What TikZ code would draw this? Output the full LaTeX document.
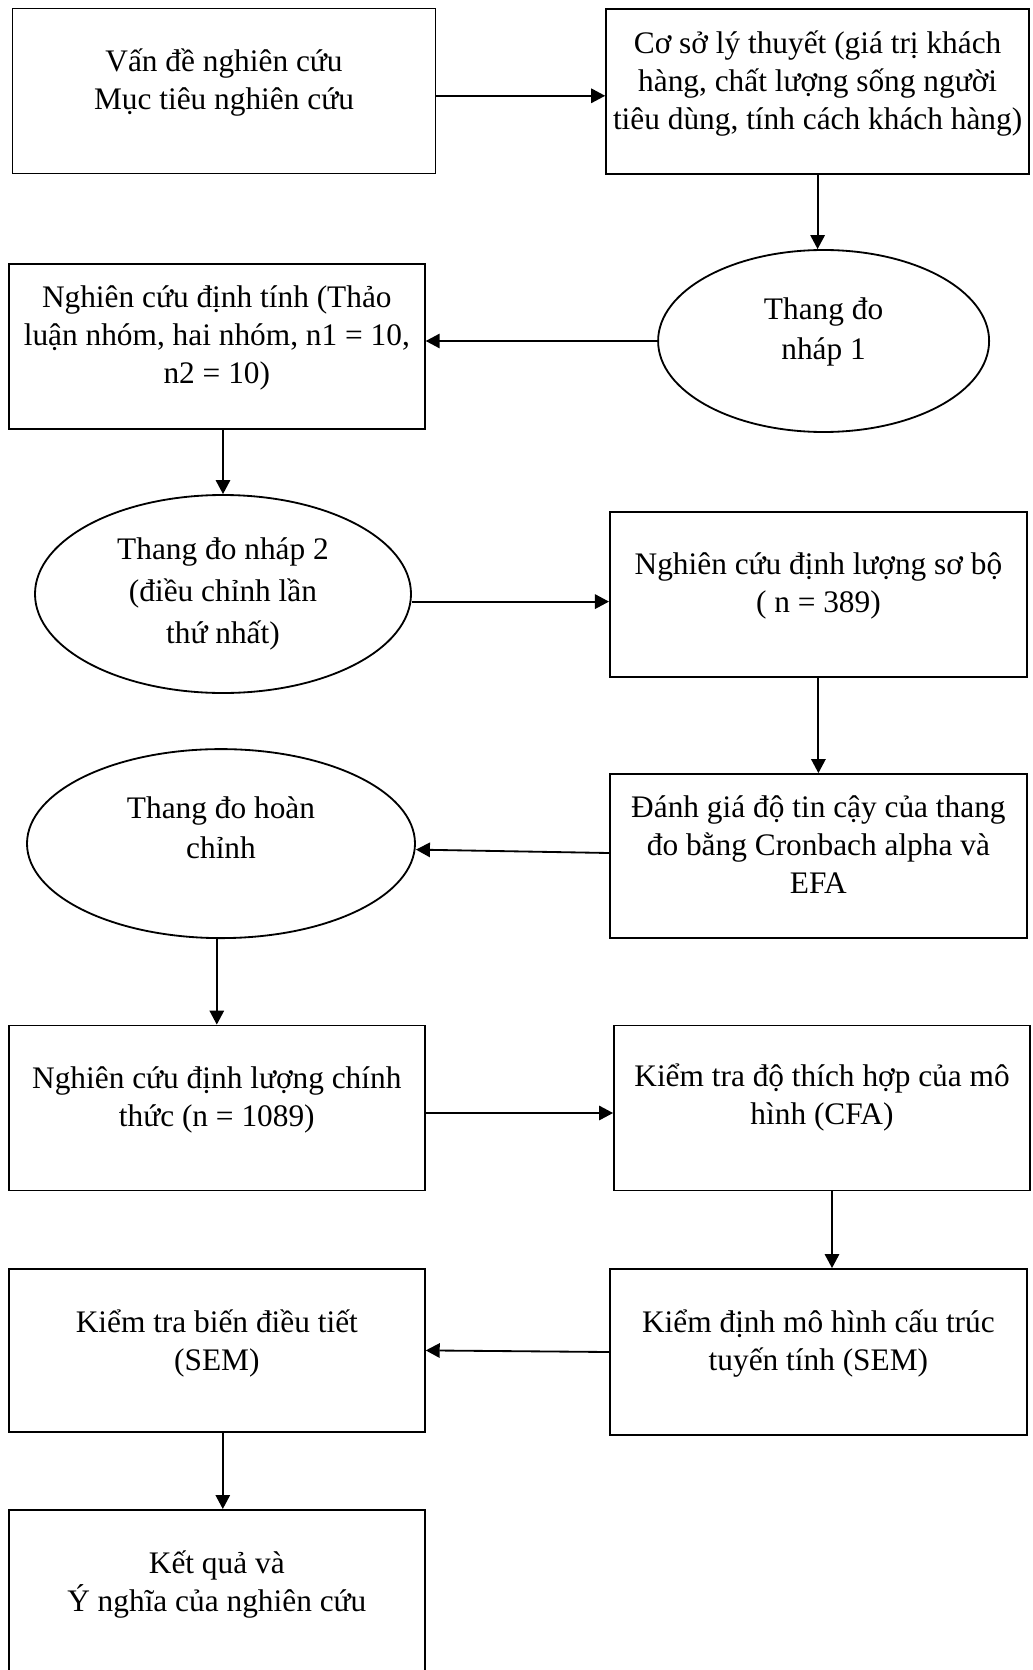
\documentclass[tikz,border=0pt]{standalone}
\usepackage{fontspec}
\setmainfont{Liberation Serif}
\usetikzlibrary{arrows.meta,shapes.geometric}
\tikzset{
  stepbox/.style={draw, line width=1.3pt, rectangle, inner sep=0pt,
                  minimum width=10.4cm, minimum height=4.125cm, align=center,
                  font=\fontsize{22.3}{27}\selectfont},
  scalebox/.style={draw, line width=1.3pt, ellipse, inner sep=0pt, align=center,
                   font=\fontsize{22.3}{28.5}\selectfont},
  arr/.style={-{Triangle[length=0.35cm,width=0.36cm]}, line width=1.3pt}}
\begin{document}
\begin{tikzpicture}
  \useasboundingbox (0,0) rectangle (25.8,-41.75);
  \clip (0,0) rectangle (25.8,-41.75);
  % right column and left column, top to bottom
  \node[stepbox, minimum width=10.575cm] (van) at (5.6,-2.275)
    {Vấn đề nghiên cứu\\ Mục tiêu nghiên cứu\\[-0.37cm]};
  \node[stepbox, minimum width=10.575cm] (coso) at (20.44,-2.29)
    {Cơ sở lý thuyết (giá trị khách\\ hàng, chất lượng sống người\\ tiêu dùng, tính cách khách hàng)\\[-0.37cm]};
  \node[scalebox, minimum width=8.275cm, minimum height=4.55cm] (nhap1) at (20.59,-8.525)
    {Thang đo\\ nháp 1\\[-0.4cm]};
  \node[stepbox] (dinhtinh) at (5.42,-8.66)
    {Nghiên cứu định tính (Thảo\\ luận nhóm, hai nhóm, n1 = 10,\\ n2 = 10)\\[-0.37cm]};
  \node[scalebox, minimum width=9.4cm, minimum height=4.95cm,
        font=\fontsize{22.3}{30}\selectfont] (nhap2) at (5.575,-14.85)
    {Thang đo nháp 2\\ (điều chỉnh lần\\ thứ nhất)};
  \node[stepbox, minimum width=10.425cm] (sobo) at (20.46,-14.86)
    {Nghiên cứu định lượng sơ bộ\\ ( n = 389)\\[-0.37cm]};
  \node[stepbox, minimum width=10.425cm, minimum height=4.1cm] (danhgia) at (20.46,-21.4)
    {Đánh giá độ tin cậy của thang\\ đo bằng Cronbach alpha và\\ EFA\\[-0.37cm]};
  \node[scalebox, minimum width=9.7cm, minimum height=4.725cm] (hoanchinh) at (5.525,-21.09)
    {Thang đo hoàn\\ chỉnh\\[-0.2cm]};
  \node[stepbox] (chinhthuc) at (5.42,-27.7)
    {Nghiên cứu định lượng chính\\ thức (n = 1089)\\[-0.37cm]};
  \node[stepbox] (cfa) at (20.55,-27.7)
    {Kiểm tra độ thích hợp của mô\\ hình (CFA)\\[-0.25cm]};
  \node[stepbox, minimum width=10.425cm, minimum height=4.15cm] (sem) at (20.46,-33.8)
    {Kiểm định mô hình cấu trúc\\ tuyến tính (SEM)\\[-0.37cm]};
  \node[stepbox, minimum height=4.075cm] (dieutiet) at (5.42,-33.76)
    {Kiểm tra biến điều tiết\\ (SEM)\\[-0.42cm]};
  \node[stepbox] (ketqua) at (5.42,-39.81)
    {Kết quả và\\ Ý nghĩa của nghiên cứu\\[-0.37cm]};
  % connectors
  \draw[arr] ([yshift=-0.12cm]van.east) -- ([yshift=-0.12cm]van.east -| coso.west);
  \draw[arr] (coso.south) -- (coso.south |- nhap1.north);
  \draw[arr] (nhap1.west) -- (nhap1.west -| dinhtinh.east);
  \draw[arr] (nhap2.north |- dinhtinh.south) -- (nhap2.north);
  \draw[arr] ([yshift=-0.19cm]nhap2.east) -- ([yshift=-0.19cm]nhap2.east -| sobo.west);
  \draw[arr] (sobo.south) -- (danhgia.north);
  \draw[arr] ([yshift=0.075cm]danhgia.west) -- ([yshift=-0.15cm]hoanchinh.east);
  \draw[arr] (chinhthuc.north |- hoanchinh.south) -- (chinhthuc.north);
  \draw[arr] ([yshift=-0.125cm]chinhthuc.east) -- ([yshift=-0.125cm]chinhthuc.east -| cfa.west);
  \draw[arr] ([xshift=0.25cm]cfa.south) -- ([xshift=0.25cm]cfa.south |- sem.north);
  \draw[arr] (sem.west) -- (dieutiet.east);
  \draw[arr] ([xshift=0.15cm]dieutiet.south) -- ([xshift=0.15cm]ketqua.north);
\end{tikzpicture}
\end{document}
